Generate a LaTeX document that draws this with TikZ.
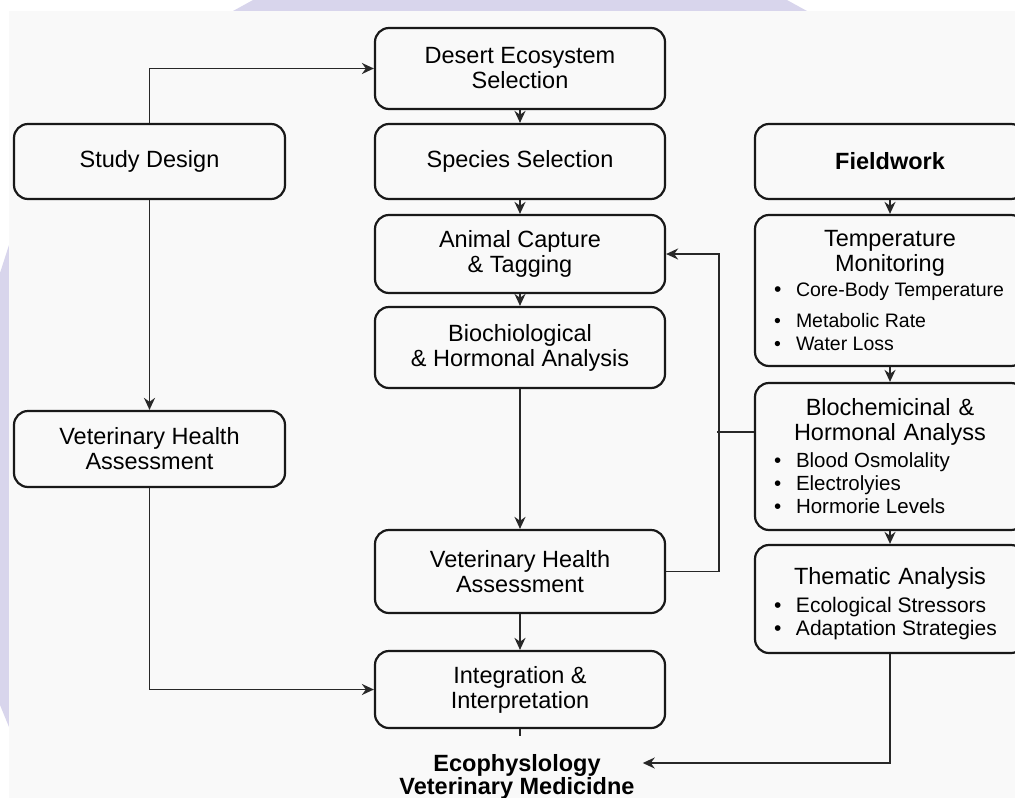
\documentclass[tikz,border=0pt]{standalone}
\usepackage{fontspec}
\setmainfont{Liberation Sans}
\usetikzlibrary{arrows.meta}
\definecolor{lavender}{RGB}{216,213,236}
\definecolor{panel}{RGB}{249,249,249}
\definecolor{edge}{RGB}{25,25,25}
\definecolor{wirec}{RGB}{40,40,40}
\tikzset{
    stage/.style={draw=edge, line width=2.2pt, rounded corners=14pt, fill=panel, align=center, minimum width=290pt, inner sep=0pt, font=\fontsize{23.5}{25}\selectfont},
    side/.style={stage, minimum width=271pt},
    task/.style={stage, minimum width=270pt, text width=240pt, align=left},
    wire/.style={draw=wirec, line width=1.9pt},
    arr/.style={wire, -{Stealth[length=12pt,width=11pt]}}
}
\newcommand{\blfont}[1]{\fontsize{#1}{23}\selectfont\spaceskip=0pt\xspaceskip=0pt\relax}
\newcommand{\bl}[1]{\hspace*{4pt}\makebox[22pt][l]{\textbullet}#1}
\begin{document}
\begin{tikzpicture}[x=1pt,y=-1pt]
    \useasboundingbox (0,0) rectangle (1015,798);
    \fill[lavender] (233,11) -- (253,0) -- (787,0) -- (807,11) -- cycle;
    \fill[lavender] (0,273) -- (9,245) -- (9,727) -- (0,705) -- cycle;
    \fill[panel] (9,11) rectangle (1015,798);

    \node[stage, minimum height=81pt] (desert) at (520,68.5) {Desert Ecosystem\\Selection};
    \node[stage, minimum height=75pt] (species) at (520,161.5) {Species Selection};
    \node[side, minimum height=75pt] (study) at (149.5,161.5) {Study Design};
    \node[task, minimum height=75pt, align=center] (field) at (890,161.5) {\textbf{Fieldwork}};
    \node[stage, minimum height=78pt] (capture) at (520,254) {Animal Capture\\\& Tagging};
    \node[task, minimum height=151pt] (temp) at (890,290.5) {{\centering Temperature\\Monitoring\par}\vspace{2pt}
        {\blfont{21}\bl{\blfont{19.5}Core-Body Temperature}\\[8pt]\bl{Metabolic Rate}\\\bl{Water Loss}\par}};
    \node[stage, minimum height=81pt] (biochio) at (520,347.5) {Biochiological\\\& Hormonal Analysis};
    \node[side, minimum height=76pt] (vetL) at (149.5,449) {Veterinary Health\\Assessment};
    \node[task, minimum height=147pt] (biochem) at (890,456.5) {{\centering Blochemicinal \&\\Hormonal Analyss\par}\vspace{4pt}
        {\blfont{20.5}\bl{Blood Osmolality}\\\bl{Electrolyies}\\\bl{Hormorie Levels}\par}};
    \node[stage, minimum height=83pt] (vetC) at (520,571.5) {Veterinary Health\\Assessment};
    \node[task, minimum height=108pt] (them) at (890,599) {{\centering\rule{0pt}{26pt}Thematic Analysis\par}\vspace{5pt}
        {\blfont{21}\bl{Ecological Stressors}\\\bl{Adaptation Strategies}\par}};
    \node[stage, minimum height=77pt] (integ) at (520,689.5) {Integration \&\\Interpretation};
    \node[font=\bfseries\fontsize{23.5}{22.5}\selectfont, align=center, inner sep=8pt] (result) at (517,777) {Ecophyslology\\Veterinary Medicidne};

    \draw[arr] (desert) -- (species);
    \draw[arr] (species) -- (capture);
    \draw[arr] (capture) -- (biochio);
    \draw[arr] (biochio) -- (vetC);
    \draw[arr] (vetC) -- (integ);
    \draw[arr] (field) -- (temp);
    \draw[arr] (temp) -- (biochem);
    \draw[arr] (biochem) -- (them);
    \draw[arr] (study.north) |- (desert.west);
    \draw[arr] (study) -- (vetL);
    \draw[arr] (vetL.south) |- (integ.west);
    \draw[arr] (vetC.east) -- ++(53,0) |- (capture.east);
    \draw[wire] ([yshift=24.5pt]biochem.west) -- ++(-37,0);
    \draw[wire] (integ.south) -- ++(0,7);
    \draw[arr] (them.south) |- ([yshift=14pt]result.east);
\end{tikzpicture}
\end{document}
